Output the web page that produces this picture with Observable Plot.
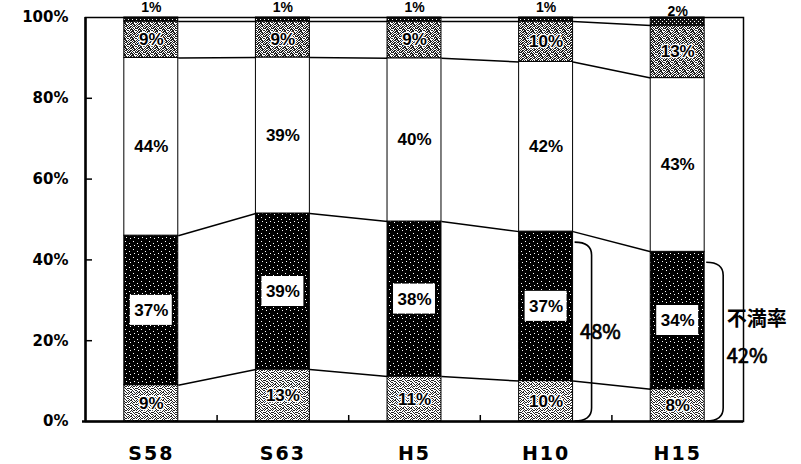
<!DOCTYPE html>
<html>
<head>
<meta charset="utf-8">
<script src="https://cdn.jsdelivr.net/npm/d3@7"></script>
<script src="https://cdn.jsdelivr.net/npm/@observablehq/plot@0.6"></script>
<style>
  html, body { margin: 0; padding: 0; background: #fff; }
  #chart svg { display: block; }
  g[aria-label="x-axis tick label"] text { letter-spacing: 2px; }
  g[aria-label="bracket-label"] text { letter-spacing: 2px; }
  g[aria-label="bracket-title"] text { letter-spacing: 1px; }
</style>
</head>
<body>
<div id="chart"></div>
<script>
// ---- data ----
const categories = ["S58", "S63", "H5", "H10", "H15"];
const dissatisfied         = [9, 13, 11, 10, 8];    // bottom, light stipple
const somewhatDissatisfied = [37, 39, 38, 37, 34];  // black stipple, boxed label
const neutral              = [44, 39, 40, 42, 43];  // white
const somewhatSatisfied    = [9, 9, 9, 10, 13];     // gray stipple
const satisfied            = [1, 1, 1, 1, 2];       // thin top band, label above
const yTicks = [0, 20, 40, 60, 80, 100];
const bracketCategories = ["H10", "H15"];
const bracketLabels = ["48%", "42%"];
const bracketTitles = ["", "不満率"];

// ---- styling ----
const HW = 0.205; // half bar width in category units
const seriesList = [
  {values: dissatisfied, fill: "url(#pLight)", kind: "halo"},
  {values: somewhatDissatisfied, fill: "url(#pDark)", kind: "box"},
  {values: neutral, fill: "white", kind: "plain"},
  {values: somewhatSatisfied, fill: "url(#pGray)", kind: "halo"},
  {values: satisfied, fill: "url(#pTop)", kind: "above"}
];

// stack, normalized to 100 %
const segments = [];
categories.forEach((c, i) => {
  const total = d3.sum(seriesList, s => s.values[i]);
  let acc = 0;
  seriesList.forEach((s, k) => {
    const y1 = acc / total * 100;
    acc += s.values[i];
    const y2 = acc / total * 100;
    segments.push({i, k, cat: c, value: s.values[i], label: s.values[i] + "%", kind: s.kind,
      fill: s.fill, x1: i - HW, x2: i + HW, y1, y2, ym: (y1 + y2) / 2});
  });
});
const seg = (i, k) => segments.find(d => d.i === i && d.k === k);

// connector lines between neighbouring bars
const links = [];
for (let k = 0; k < seriesList.length - 1; k++) {
  for (let i = 0; i < categories.length - 1; i++) {
    links.push({x1: i + HW, y1: seg(i, k).y2, x2: i + 1 - HW, y2: seg(i + 1, k).y2});
  }
}

// bracket annotations
const brackets = bracketCategories.map((c, j) => {
  const i = categories.indexOf(c);
  const top = seg(i, 1).y2;
  return {i, top, xr: i + HW, mid: top / 2, label: bracketLabels[j], title: bracketTitles[j]};
});

function patternDefs() {
  const defs = d3.create("svg:defs");
  const mk = (id, bg, fg, rows) => {
    const h = rows.length, w = rows[0].length;
    const p = defs.append("pattern").attr("id", id).attr("patternUnits", "userSpaceOnUse")
      .attr("width", w).attr("height", h);
    p.append("rect").attr("width", w).attr("height", h).attr("fill", bg);
    rows.forEach((r, y) => [...r].forEach((ch, x) => {
      if (ch === "1") p.append("rect").attr("x", x).attr("y", y).attr("width", 1).attr("height", 1).attr("fill", fg);
    }));
  };
  mk("pLight", "#fff", "#222", [
    "10110010", "01001001", "10010110", "00101000",
    "11000101", "00110010", "10001001", "01010100"]);
  mk("pGray", "#fff", "#222", [
    "10110110", "01001011", "10110110", "01101001",
    "11010101", "00111010", "10101101", "01011100"]);
  mk("pDark", "#000", "#fff", [
    "00000000", "00000100", "00000000", "01000000",
    "00000000", "00000010", "00100000", "00000000"]);
  mk("pTop", "#111", "#fff", ["0000", "0010", "0000", "1000"]);
  return defs.node();
}

function bracketPaths(index, scales) {
  const g = d3.create("svg:g").attr("fill", "none").attr("stroke", "black").attr("stroke-width", 1.6);
  brackets.forEach(b => {
    const x0 = scales.x(b.xr) + 2, xr = x0 + 17;
    const yT = scales.y(b.top) + 11, yB = scales.y(0);
    const r = 13;
    g.append("path").attr("d",
      `M${x0},${yT} Q${xr},${yT} ${xr},${yT + r} L${xr},${yB - r} Q${xr},${yB} ${x0},${yB}`);
  });
  return g.node();
}

const labelFont = "Liberation Sans";
const annFont = "Noto Sans CJK JP";
const plainBrackets = brackets.filter(b => !b.title);
const titledBrackets = brackets.filter(b => b.title);
const chart = Plot.plot({
  width: 801,
  height: 464,
  marginLeft: 85,
  marginRight: 58,
  marginTop: 17,
  marginBottom: 43,
  x: {domain: [-0.5, categories.length - 0.5], axis: null},
  y: {domain: [0, 100], axis: null},
  style: {background: "white", color: "black", fontFamily: "DejaVu Sans"},
  marks: [
    patternDefs,
    Plot.link(links, {x1: "x1", y1: "y1", x2: "x2", y2: "y2", stroke: "black", strokeWidth: 1.5}),
    ...seriesList.map((s, k) =>
      Plot.rect(segments.filter(d => d.k === k), {x1: "x1", x2: "x2", y1: "y1", y2: "y2",
        fill: s.fill, stroke: "black", strokeWidth: 1})),
    // white boxes for the black segment labels
    Plot.rect(segments.filter(d => d.kind === "box"), {x1: "x1", x2: "x2", y1: "ym", y2: "ym",
      insetLeft: 6, insetRight: 6, insetTop: -15, insetBottom: -15, fill: "white"}),
    Plot.text(segments.filter(d => d.kind === "box" || d.kind === "plain"), {x: "i", y: "ym", text: "label",
      fontFamily: labelFont, fontWeight: "bold", fontSize: 17, fill: "black"}),
    Plot.text(segments.filter(d => d.kind === "halo"), {x: "i", y: "ym", text: "label",
      fontFamily: labelFont, fontWeight: "bold", fontSize: 17, fill: "black", stroke: "white", strokeWidth: 2.5}),
    Plot.text(segments.filter(d => d.kind === "above"), {x: "i", y: "y1", text: "label", dy: -14,
      fontFamily: labelFont, fontWeight: "bold", fontSize: 14, fill: "black"}),
    // frame and axes
    Plot.frame({stroke: "black", strokeWidth: 1.5}),
    Plot.ruleX([-0.5], {strokeWidth: 2.5}),
    Plot.ruleY([0], {strokeWidth: 2.5, insetLeft: -3}),
    Plot.ruleY(yTicks.filter(t => t > 0 && t < 100), {x1: -0.5, x2: -0.5, insetRight: -7, strokeWidth: 1.5}),
    Plot.ruleX(d3.range(categories.length - 1).map(i => i + 0.5), {y1: 0, y2: 0, insetTop: -6, strokeWidth: 1.5}),
    Plot.axisY(yTicks, {tickSize: 0, tickPadding: 17, tickFormat: d => d + "%",
      fontSize: 15, fontWeight: "bold", fontFamily: "DejaVu Sans"}),
    Plot.axisX(d3.range(categories.length), {tickSize: 0, tickPadding: 25, tickFormat: i => categories[i],
      fontSize: 19, fontWeight: "bold", fontFamily: "DejaVu Sans"}),
    // brackets
    bracketPaths,
    Plot.text(plainBrackets, {x: "xr", y: "mid", text: "label", textAnchor: "start", dx: 7, dy: 6,
      fontFamily: annFont, fontSize: 20, fill: "black", stroke: "black", strokeWidth: 0.7, ariaLabel: "bracket-label"}),
    Plot.text(titledBrackets, {x: "xr", y: "mid", text: "label", textAnchor: "start", dx: 22, dy: 20,
      fontFamily: annFont, fontSize: 20, fill: "black", stroke: "black", strokeWidth: 0.7, ariaLabel: "bracket-label"}),
    Plot.text(titledBrackets, {x: "xr", y: "mid", text: "title", textAnchor: "start", dx: 22, dy: -17,
      fontFamily: annFont, fontWeight: "bold", fontSize: 20, fill: "black", ariaLabel: "bracket-title"})
  ]
});
document.getElementById("chart").appendChild(chart);
</script>
</body>
</html>
